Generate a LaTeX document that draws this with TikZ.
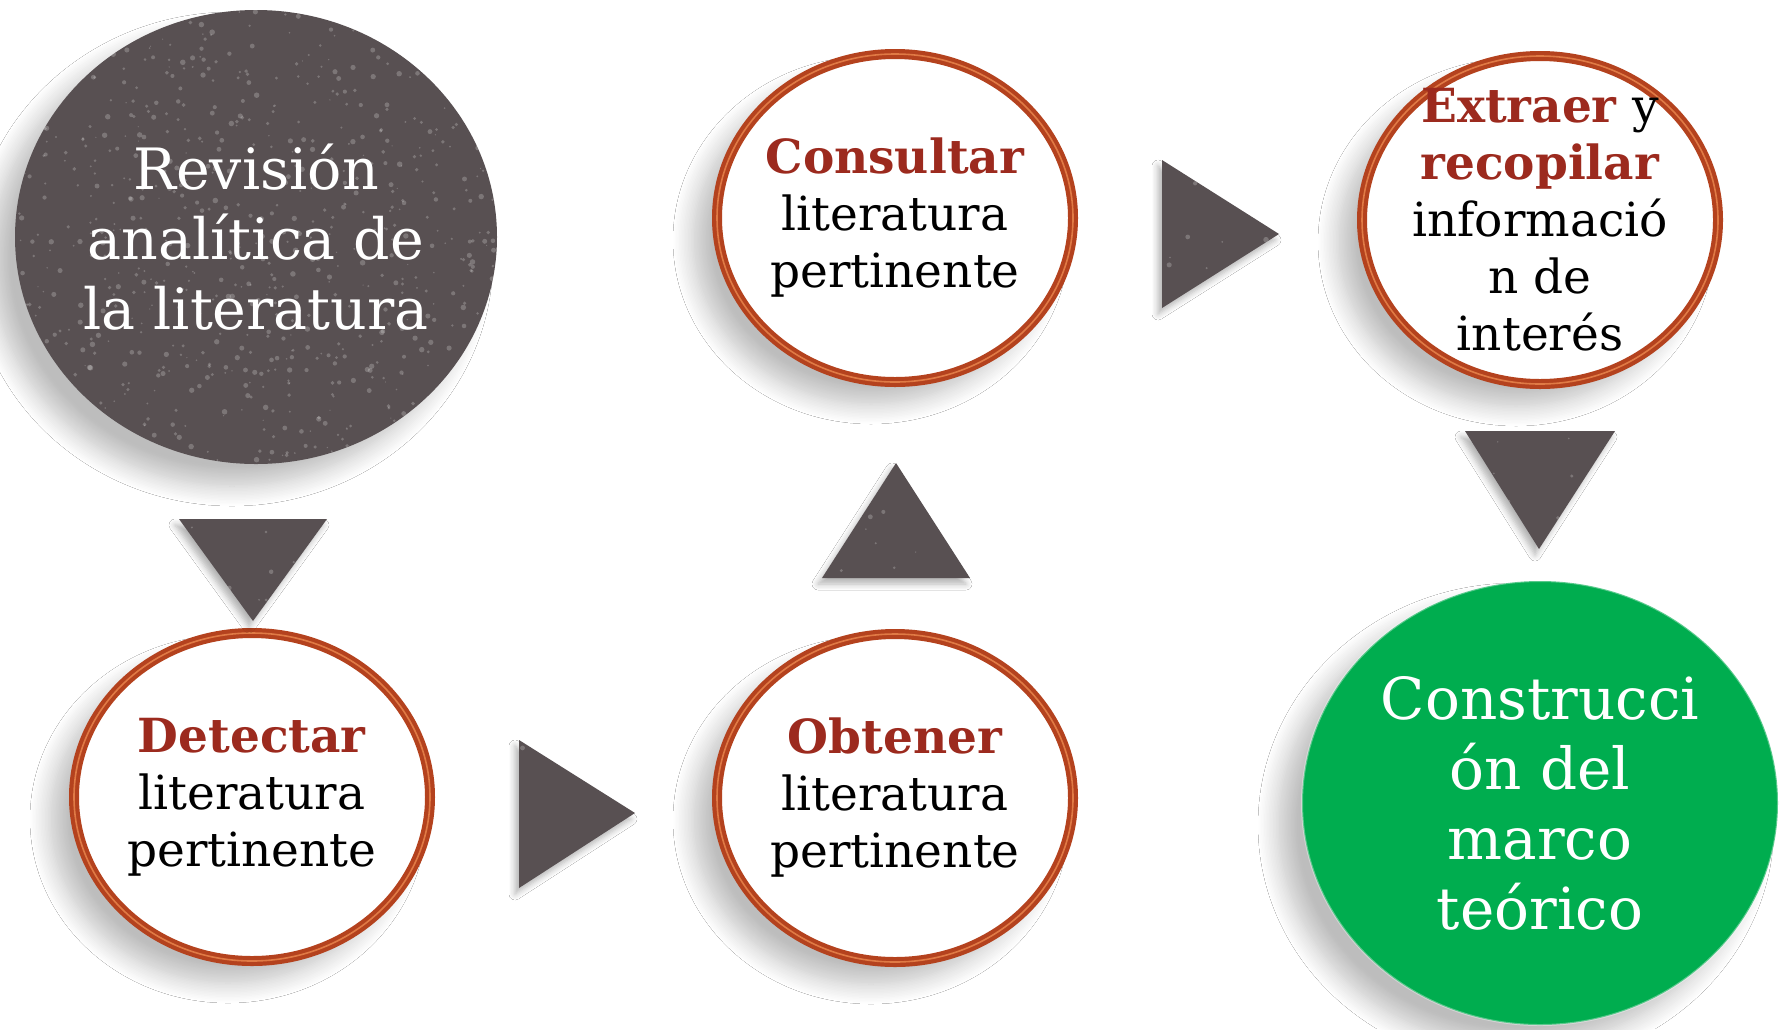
\documentclass[tikz,border=0pt]{standalone}
\usepackage{fontspec}
\setmainfont{DejaVu Serif}
\usetikzlibrary{shapes.geometric,shadows.blur}
\definecolor{ringc}{HTML}{B4421E}
\definecolor{ringlight}{HTML}{E07A45}
\definecolor{redtxt}{HTML}{9C2A1E}
\definecolor{darkg}{HTML}{585052}
\definecolor{greenc}{HTML}{00AD4F}
\newcommand\redb[1]{\textcolor{redtxt}{\textbf{#1}}}
\tikzset{
  softshadow/.style={blur shadow={shadow xshift=-12pt, shadow yshift=-11pt, shadow blur steps=14, shadow blur radius=10pt, shadow opacity=26}},
  grain/.style={path picture={
     \foreach \k in {1,...,#1}{
       \fill[white,opacity=0.22] ([xshift={rnd*250pt},yshift={rnd*240pt}]path picture bounding box.south west) circle[radius={0.3pt+rnd*1.1pt}];
     }}},
  bubble/.style={ellipse, inner sep=-25pt, align=center, softshadow},
  ringbub/.style={bubble, fill=white, draw=ringc, line width=5pt,
     minimum width=178pt, minimum height=164pt,
     font=\fontsize{23.5}{28.5}\selectfont, text=black,
     postaction={draw=ringlight, line width=0.8pt}},
  darkbub/.style={bubble, fill=darkg, minimum width=241pt, minimum height=227pt,
     font=\fontsize{28.5}{35}\selectfont, text=white, grain=900},
  greenbub/.style={bubble, fill=greenc, minimum width=238pt, minimum height=222pt,
     font=\fontsize{29}{35}\selectfont, text=white,
     postaction={draw=white, opacity=0.35, line width=1pt}},
  tri/.style={fill=darkg, blur shadow={shadow xshift=-2pt, shadow yshift=-3pt, shadow blur steps=6, shadow blur radius=3pt, shadow opacity=30}, grain=150}
}
\begin{document}
\begin{tikzpicture}[x=0.5pt,y=-0.5pt]
\pgfmathsetseed{11}
\useasboundingbox[fill=white] (0,0) rectangle (1787,1029);

% bubbles
\node[darkbub]  (rev) at (256,237) {Revisión\\analítica de\\la literatura};
\node[ringbub]  (det) at (252,797) {\redb{Detectar}\\literatura\\pertinente};
\node[ringbub]  (obt) at (895,798) {\redb{Obtener}\\literatura\\pertinente};
\node[ringbub]  (con) at (895,218) {\redb{Consultar}\\literatura\\pertinente};
\node[ringbub]  (ext) at (1540,220) {\redb{Extraer} y\\\redb{recopilar}\\informació\\n de\\interés};
\node[greenbub] (mar) at (1540,803) {Construcci\\ón del\\marco\\teórico};

% triangle arrows
\coordinate (t1a) at (179,519); \coordinate (t1b) at (327,519); \coordinate (t1c) at (253,621);
\path[tri] (t1a) -- (t1b) -- (t1c) -- cycle;
\coordinate (t2a) at (519,740); \coordinate (t2b) at (519,888); \coordinate (t2c) at (635,813);
\path[tri] (t2a) -- (t2c) -- (t2b) -- cycle;
\coordinate (t3a) at (822,578); \coordinate (t3b) at (970,578); \coordinate (t3c) at (896,463);
\path[tri] (t3a) -- (t3c) -- (t3b) -- cycle;
\coordinate (t4a) at (1162,160); \coordinate (t4b) at (1162,308); \coordinate (t4c) at (1279,234);
\path[tri] (t4a) -- (t4c) -- (t4b) -- cycle;
\coordinate (t5a) at (1465,431); \coordinate (t5b) at (1615,431); \coordinate (t5c) at (1539,549);
\path[tri] (t5a) -- (t5b) -- (t5c) -- cycle;
\end{tikzpicture}
\end{document}
